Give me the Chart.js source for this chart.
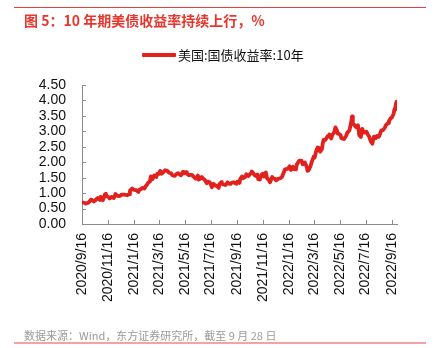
<!DOCTYPE html>
<html><head><meta charset="utf-8">
<script src="https://cdn.jsdelivr.net/npm/chart.js@4.4.1/dist/chart.umd.min.js"></script>
<style>
html,body{margin:0;padding:0;background:#fff;}
#wrap{position:relative;width:437px;height:348px;overflow:hidden;background:#fff;}
canvas{position:absolute;left:0;top:0;}
#topRule{position:absolute;left:14px;top:7px;width:412px;height:1px;background:#e8403a;}
#botRule{position:absolute;left:14px;top:342px;width:412px;height:2px;background:#f3a3a0;}
#title{position:absolute;left:24px;top:10px;font:bold 14px "Noto Sans CJK SC",sans-serif;color:#e8352d;white-space:nowrap;line-height:20px;}
#legend{position:absolute;left:142px;top:46px;height:18px;white-space:nowrap;}
#legLine{position:absolute;left:0;top:7px;width:34px;height:4px;background:#e3211c;border-radius:1px;}
#legText{position:absolute;left:36px;top:0;font:13px "Noto Sans CJK SC",sans-serif;color:#111;line-height:18px;}
#source{position:absolute;left:24px;top:327px;font:11px "Noto Sans CJK SC",sans-serif;color:#9a9a9a;white-space:nowrap;line-height:16px;}
</style></head>
<body>
<div id="wrap">
<canvas id="c" width="437" height="348"></canvas>
<div id="topRule"></div>
<div id="title">图 5：10 年期美债收益率持续上行，%</div>
<div id="legend"><div id="legLine"></div><div id="legText">美国:国债收益率:10年</div></div>
<div id="source">数据来源：Wind，东方证券研究所，截至 9 月 28 日</div>
<div id="botRule"></div>
</div>
<script>
const seriesName = "美国:国债收益率:10年";
const tickLabels = ["2020/9/16","2020/11/16","2021/1/16","2021/3/16","2021/5/16","2021/7/16","2021/9/16","2021/11/16","2022/1/16","2022/3/16","2022/5/16","2022/7/16","2022/9/16"];
const yTicks = [0,0.5,1,1.5,2,2.5,3,3.5,4,4.5];
const startDate = "2020/9/16";
const endDate = "2022/9/28";
const dates = [
"2020/9/16","2020/9/18","2020/9/23","2020/9/25","2020/9/30","2020/10/2","2020/10/7","2020/10/9","2020/10/14","2020/10/16","2020/10/21","2020/10/23","2020/10/28","2020/10/30","2020/11/4","2020/11/6","2020/11/9","2020/11/11","2020/11/13","2020/11/18","2020/11/20","2020/11/25","2020/11/30","2020/12/4","2020/12/8","2020/12/11","2020/12/16","2020/12/18","2020/12/23","2020/12/28","2020/12/31",
"2021/1/5","2021/1/7","2021/1/12","2021/1/15","2021/1/20","2021/1/22","2021/1/27","2021/1/29","2021/2/3","2021/2/5","2021/2/10","2021/2/12","2021/2/17","2021/2/19","2021/2/23","2021/2/25","2021/3/1","2021/3/5","2021/3/10","2021/3/12","2021/3/16","2021/3/19","2021/3/23","2021/3/26","2021/3/31","2021/4/5","2021/4/9","2021/4/14","2021/4/16","2021/4/21","2021/4/23","2021/4/28","2021/4/30","2021/5/5","2021/5/7","2021/5/12","2021/5/14","2021/5/19","2021/5/21","2021/5/26","2021/5/28","2021/6/2","2021/6/4","2021/6/9","2021/6/11","2021/6/16","2021/6/18","2021/6/22","2021/6/25","2021/6/30","2021/7/2","2021/7/7","2021/7/9","2021/7/14","2021/7/16","2021/7/19","2021/7/23","2021/7/27","2021/7/30","2021/8/4","2021/8/6","2021/8/11","2021/8/13","2021/8/18","2021/8/20","2021/8/25","2021/8/27","2021/9/1","2021/9/3","2021/9/8","2021/9/10","2021/9/15","2021/9/17","2021/9/22","2021/9/24","2021/9/28","2021/10/1","2021/10/6","2021/10/8","2021/10/13","2021/10/15","2021/10/20","2021/10/21","2021/10/26","2021/10/29","2021/11/3","2021/11/5","2021/11/9","2021/11/12","2021/11/16","2021/11/19","2021/11/23","2021/11/26","2021/11/30","2021/12/3","2021/12/8","2021/12/10","2021/12/15","2021/12/17","2021/12/22","2021/12/27","2021/12/31",
"2022/1/4","2022/1/7","2022/1/10","2022/1/14","2022/1/18","2022/1/21","2022/1/26","2022/1/28","2022/2/2","2022/2/4","2022/2/10","2022/2/15","2022/2/18","2022/2/23","2022/2/28","2022/3/1","2022/3/4","2022/3/8","2022/3/11","2022/3/16","2022/3/18","2022/3/22","2022/3/25","2022/3/28","2022/3/31","2022/4/4","2022/4/6","2022/4/8","2022/4/12","2022/4/18","2022/4/20","2022/4/22","2022/4/26","2022/4/29","2022/5/3","2022/5/6","2022/5/9","2022/5/11","2022/5/13","2022/5/18","2022/5/20","2022/5/24","2022/5/26","2022/5/31","2022/6/3","2022/6/8","2022/6/10","2022/6/13","2022/6/14","2022/6/16","2022/6/17","2022/6/22","2022/6/24","2022/6/28","2022/6/30","2022/7/1","2022/7/5","2022/7/8","2022/7/12","2022/7/14","2022/7/18","2022/7/21","2022/7/25","2022/7/28","2022/8/1","2022/8/3","2022/8/5","2022/8/9","2022/8/12","2022/8/16","2022/8/18","2022/8/22","2022/8/26","2022/8/30","2022/9/2","2022/9/7","2022/9/9","2022/9/13","2022/9/16","2022/9/20","2022/9/22","2022/9/23","2022/9/26","2022/9/27","2022/9/28"
];
const yields = [
0.70,0.70,0.68,0.66,0.69,0.70,0.79,0.78,0.73,0.75,0.82,0.84,0.78,0.88,0.77,0.83,0.96,0.98,0.90,0.87,0.83,0.88,0.84,0.97,0.92,0.90,0.92,0.95,0.95,0.94,0.93,
0.96,1.08,1.15,1.11,1.10,1.09,1.04,1.11,1.14,1.17,1.15,1.20,1.29,1.34,1.37,1.54,1.45,1.57,1.52,1.62,1.62,1.72,1.63,1.67,1.74,1.72,1.66,1.64,1.59,1.56,1.58,1.63,1.65,1.59,1.58,1.69,1.64,1.68,1.63,1.58,1.59,1.59,1.56,1.49,1.47,1.57,1.44,1.47,1.52,1.45,1.43,1.32,1.37,1.35,1.30,1.19,1.30,1.24,1.24,1.17,1.30,1.36,1.29,1.27,1.26,1.35,1.31,1.30,1.33,1.35,1.34,1.30,1.37,1.33,1.47,1.54,1.48,1.53,1.61,1.55,1.59,1.66,1.70,1.61,1.56,1.60,1.45,1.44,1.58,1.63,1.54,1.67,1.48,1.43,1.35,1.52,1.48,1.46,1.41,1.46,1.48,1.52,
1.66,1.77,1.78,1.79,1.87,1.75,1.85,1.78,1.77,1.93,2.05,2.05,1.93,1.99,1.83,1.72,1.74,1.86,2.00,2.19,2.15,2.38,2.48,2.46,2.34,2.42,2.60,2.72,2.72,2.85,2.83,2.90,2.77,2.89,2.97,3.13,3.05,2.93,2.93,2.88,2.78,2.76,2.75,2.85,2.96,3.03,3.16,3.37,3.48,3.28,3.25,3.16,3.13,3.20,3.01,2.88,2.82,3.08,2.96,2.96,2.99,2.91,2.81,2.68,2.60,2.73,2.83,2.78,2.85,2.82,2.88,3.03,3.04,3.11,3.20,3.27,3.33,3.42,3.45,3.57,3.71,3.69,3.93,3.96,3.73
];

function dayNum(s){const p=s.split('/').map(Number);return Date.UTC(p[0],p[1]-1,p[2])/86400000;}
const d0 = dayNum(startDate);
const tickDays = tickLabels.map(s=>dayNum(s)-d0);
const points = dates.map((d,i)=>({x:dayNum(d)-d0,y:yields[i]}));

const innerTicks = {
  id:'innerTicks',
  afterDraw(chart){
    const ctx=chart.ctx, a=chart.chartArea, xs=chart.scales.x, ys=chart.scales.y;
    ctx.save();
    ctx.strokeStyle='#8c8c8c'; ctx.lineWidth=1;
    ctx.beginPath();
    tickDays.forEach(v=>{const x=Math.round(xs.getPixelForValue(v))+0.5; ctx.moveTo(x,a.bottom); ctx.lineTo(x,a.bottom-4);});
    yTicks.forEach(v=>{const y=Math.round(ys.getPixelForValue(v))+0.5; ctx.moveTo(a.left,y); ctx.lineTo(a.left+4,y);});
    ctx.stroke();
    ctx.restore();
  }
};

new Chart(document.getElementById('c'),{
  type:'line',
  data:{datasets:[{label:seriesName,data:points,borderColor:'#e3211c',backgroundColor:'#e3211c',borderWidth:3.8,pointRadius:0,tension:0,fill:false,borderJoinStyle:'round',borderCapStyle:'round'}]},
  options:{
    responsive:false,animation:false,devicePixelRatio:1,
    layout:{padding:{top:85,right:40,bottom:0,left:0}},
    plugins:{legend:{display:false},tooltip:{enabled:false},title:{display:false}},
    scales:{
      x:{type:'linear',min:0,max:dayNum(endDate)-d0,
        afterBuildTicks(s){s.ticks=tickDays.map(v=>({value:v}));},
        afterFit(s){s.height=124;},
        grid:{display:false,drawTicks:false},
        border:{display:true,color:'#8c8c8c',width:1},
        ticks:{autoSkip:false,minRotation:90,maxRotation:90,padding:9,color:'#111',font:{family:'"Liberation Sans", Arial, sans-serif',size:14},
          callback:(v,i)=>tickLabels[i]}
      },
      y:{min:0,max:4.5,
        afterBuildTicks(s){s.ticks=yTicks.map(v=>({value:v}));},
        afterFit(s){s.width=82;},
        grid:{display:false,drawTicks:false},
        border:{display:true,color:'#8c8c8c',width:1},
        ticks:{autoSkip:false,padding:16,color:'#111',font:{family:'"Liberation Sans", Arial, sans-serif',size:14},callback:v=>Number(v).toFixed(2)}
      }
    }
  },
  plugins:[innerTicks]
});
</script>
</body></html>
